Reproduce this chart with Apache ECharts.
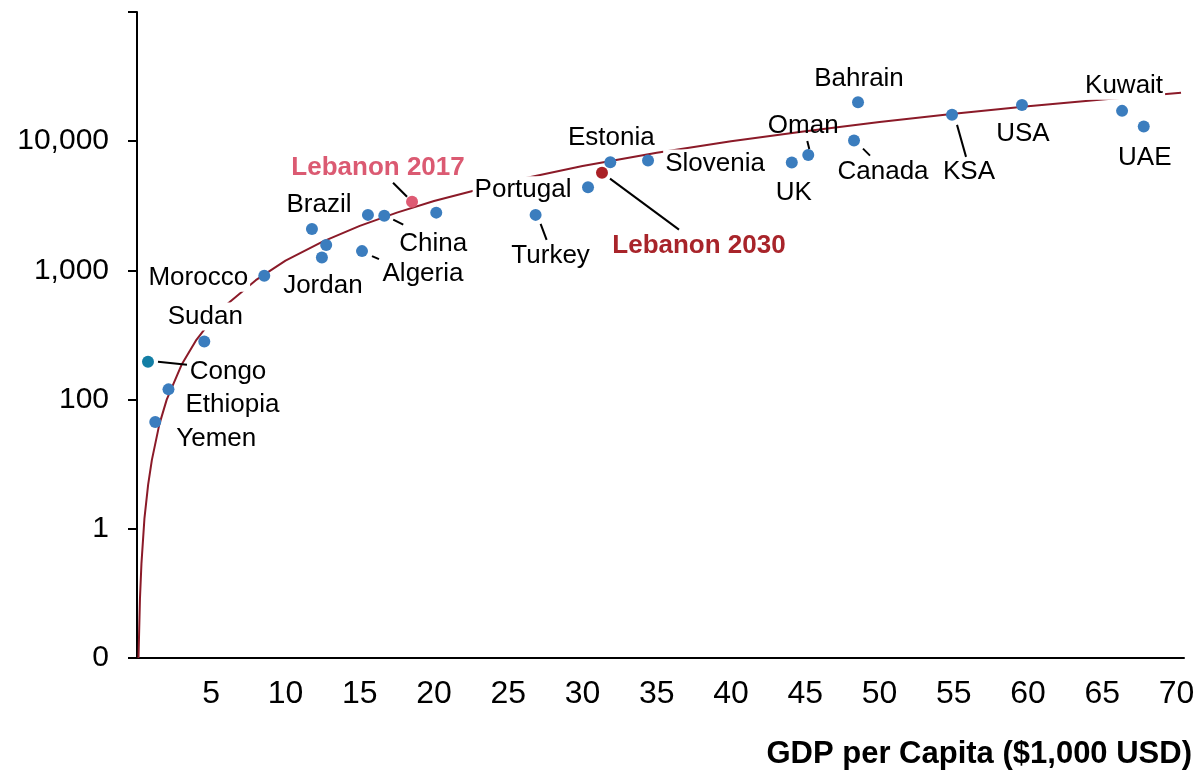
<!DOCTYPE html>
<html>
<head>
<meta charset="utf-8">
<script src="https://cdn.jsdelivr.net/npm/echarts@6/dist/echarts.min.js"></script>
<style>
  html, body { margin: 0; padding: 0; background: #fff; }
  #main { width: 1199px; height: 774px; }
</style>
</head>
<body>
<div id="main"></div>
<script>
// 国家 / 人均GDP(千美元) / 纵轴数值(对数轴)
const countries = ['Congo', 'Yemen', 'Ethiopia', 'Sudan', 'Morocco', 'Brazil', '', 'Jordan', 'Algeria', '', 'China', '',
    'Lebanon 2017', 'Turkey', 'Portugal', 'Lebanon 2030', 'Estonia', 'Slovenia', 'UK', 'Oman', 'Canada', 'Bahrain',
    'KSA', 'USA', 'Kuwait', 'UAE'];
const gdpPerCapita = [0.74, 1.23, 2.12, 4.53, 8.57, 11.78, 12.74, 12.45, 15.15, 15.55, 16.65, 20.15,
    18.52, 26.84, 30.37, 31.31, 31.87, 34.41, 44.09, 45.2, 48.28, 48.55,
    54.88, 59.59, 66.33, 67.79];
const yValues = [196, 67, 120, 282, 910, 2090, 1570, 1260, 1410, 2690, 2650, 2800,
    3400, 2690, 4400, 5710, 6860, 7080, 6830, 7830, 10110, 19990,
    15990, 19100, 17170, 12980];

// 趋势线
const trendX = [0.1, 0.2, 0.3, 0.5, 0.75, 1, 1.5, 2, 3, 4, 5, 6, 8, 10, 12.5, 15, 17.5, 20, 25, 30, 35, 40, 45, 50, 55, 60, 65, 70.3];
const trendY = [1, 2.9, 5.4, 12, 22, 34, 64, 100, 186, 290, 408, 540, 840, 1190, 1670, 2210, 2800, 3440, 4850, 6420, 8130, 9980, 11960, 14060, 16280, 18610, 21040, 23750];

// 纵轴刻度文字 (1,10,100,1000,10000,100000)
const yTickLabels = ['0', '1', '100', '1,000', '10,000', ''];

const FONT = '"Liberation Sans", Arial, sans-serif';
const BLUE = '#3B7DBE';

// 标签偏移 (相对圆点中心, px)
const labelPlace = {
    'Congo': [80, 10], 'Yemen': [61, 17], 'Ethiopia': [64, 15], 'Sudan': [1, -25], 'Morocco': [-66, 2],
    'Brazil': [7, -24], 'Jordan': [1, 28], 'Algeria': [61, 23], 'China': [49, 28], 'Lebanon 2017': [-34, -34],
    'Turkey': [15, 41], 'Portugal': [-65, 3], 'Lebanon 2030': [97, 73], 'Estonia': [1, -25], 'Slovenia': [67, 3],
    'UK': [2, 30], 'Oman': [-5, -29], 'Bahrain': [1, -24], 'Canada': [29, 31], 'KSA': [17, 57], 'USA': [1, 29],
    'Kuwait': [2, -25], 'UAE': [1, 31]
};
const whiteBox = ['Sudan', 'Portugal', 'Slovenia', 'Kuwait', 'Morocco'];
const special = {
    'Congo': { dot: '#127EA5' },
    'Lebanon 2017': { dot: '#DE5A73', text: '#DB5A72', bold: true },
    'Lebanon 2030': { dot: '#AA2026', text: '#A8242A', bold: true }
};
// 引线 (相对圆点中心, px): x1, y1, x2, y2
const leaders = {
    'Congo': [10, 0, 39, 3], 'Algeria': [10, 5, 17, 8], 'China': [9, 4, 19, 9], 'Lebanon 2017': [-19, -19, -5, -5],
    'Turkey': [5, 9, 11, 25], 'Lebanon 2030': [8, 6, 77, 57], 'Oman': [-1, -14, 1, -6], 'Canada': [9, 8, 16, 15],
    'KSA': [5, 10, 14, 42]
};

let points = [];
let leaderData = [];
for (let i = 0; i < countries.length; i++) {
    let name = countries[i];
    let sp = special[name] || {};
    let item = {
        name: name,
        value: [gdpPerCapita[i], yValues[i]],
        itemStyle: { color: sp.dot || BLUE, opacity: 1 }
    };
    if (name && labelPlace[name]) {
        item.label = {
            show: true,
            offset: labelPlace[name],
            color: sp.text || '#000',
            fontWeight: sp.bold ? 'bold' : 'normal',
            backgroundColor: whiteBox.indexOf(name) >= 0 ? '#fff' : 'transparent',
            padding: [1, 2]
        };
    }
    points.push(item);
    if (leaders[name]) leaderData.push([gdpPerCapita[i], yValues[i], name]);
}

let trendData = [];
for (let i = 0; i < trendX.length; i++) trendData.push([trendX[i], trendY[i]]);

let myChart = echarts.init(document.getElementById('main'));
let option = {
    animation: false,
    backgroundColor: '#fff',
    textStyle: { fontFamily: FONT },
    title: {
        text: 'GDP per Capita ($1,000 USD)',
        right: 2,
        top: 734,
        textStyle: { fontFamily: FONT, fontSize: 31, fontWeight: 'bold', color: '#000' }
    },
    grid: { left: 137, right: 15, top: 12, bottom: 116, containLabel: false, outerBoundsMode: 'none' },
    xAxis: {
        type: 'value',
        min: 0,
        max: 70.5,
        interval: 5,
        splitLine: { show: false },
        axisTick: { show: false },
        axisLine: { show: true, onZero: false, lineStyle: { color: '#000', width: 2 } },
        axisLabel: {
            margin: 20,
            fontSize: 32,
            color: '#000',
            fontFamily: FONT,
            showMaxLabel: false,
            formatter: function (v) {
                return (v > 0 && Math.abs(v % 5) < 1e-6) ? String(v) : '';
            }
        }
    },
    yAxis: {
        type: 'log',
        logBase: 10,
        min: 1,
        max: 100000,
        splitLine: { show: false },
        axisLine: { show: true, lineStyle: { color: '#000', width: 2 } },
        axisTick: { show: true, inside: false, length: 9, lineStyle: { color: '#000', width: 2 } },
        axisLabel: {
            margin: 28,
            fontSize: 30,
            color: '#000',
            fontFamily: FONT,
            formatter: function (v) {
                let k = Math.round(Math.log(v) / Math.LN10);
                return yTickLabels[k] !== undefined ? yTickLabels[k] : '';
            }
        }
    },
    series: [
        {
            name: 'trend',
            type: 'line',
            z: 2,
            data: trendData,
            showSymbol: false,
            symbol: 'none',
            smooth: false,
            lineStyle: { color: '#8B1A28', width: 2 }
        },
        {
            name: 'countries',
            type: 'scatter',
            z: 3,
            symbolSize: 12,
            data: points,
            itemStyle: { opacity: 1 },
            label: {
                show: false,
                position: 'inside',
                align: 'center',
                verticalAlign: 'middle',
                fontSize: 26,
                fontFamily: FONT,
                color: '#000',
                opacity: 1,
                formatter: '{b}'
            },
            emphasis: { disabled: true }
        },
        {
            name: 'leaders',
            type: 'custom',
            z: 4,
            data: leaderData,
            encode: { x: 0, y: 1 },
            renderItem: function (params, api) {
                let p = api.coord([api.value(0), api.value(1)]);
                let o = leaders[leaderData[params.dataIndex][2]];
                return {
                    type: 'line',
                    shape: { x1: p[0] + o[0], y1: p[1] + o[1], x2: p[0] + o[2], y2: p[1] + o[3] },
                    style: { stroke: '#000', lineWidth: 2 }
                };
            }
        }
    ]
};
myChart.setOption(option);
</script>
</body>
</html>
